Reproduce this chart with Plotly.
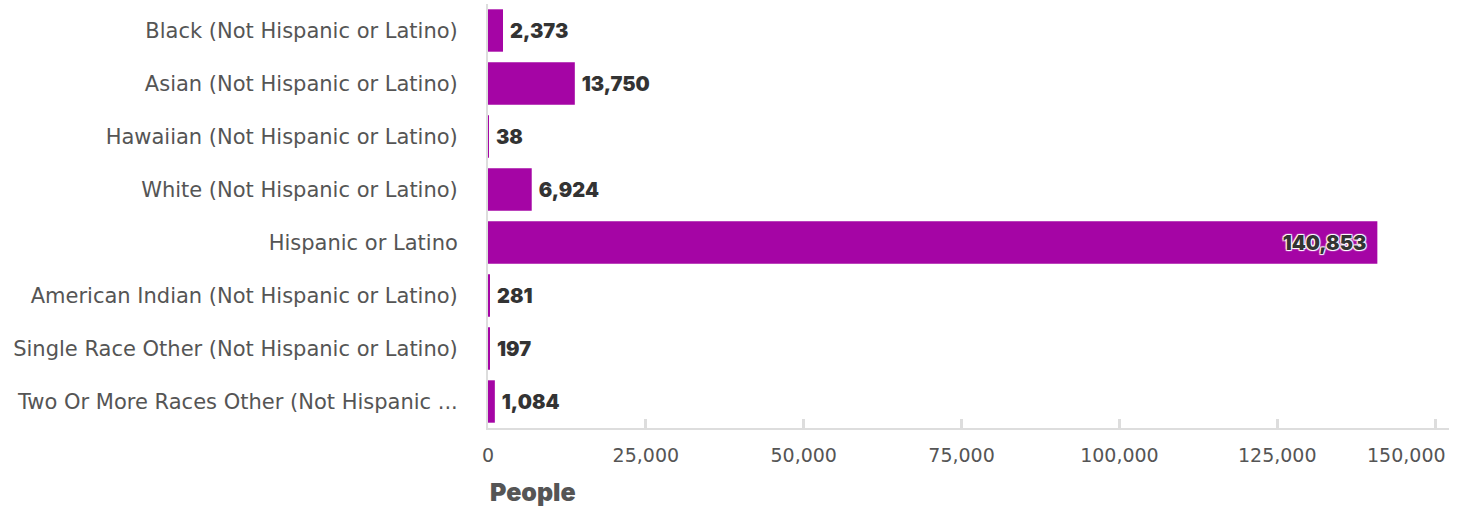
import plotly.graph_objects as go

categories = [
    "Black (Not Hispanic or Latino)",
    "Asian (Not Hispanic or Latino)",
    "Hawaiian (Not Hispanic or Latino)",
    "White (Not Hispanic or Latino)",
    "Hispanic or Latino",
    "American Indian (Not Hispanic or Latino)",
    "Single Race Other (Not Hispanic or Latino)",
    "Two Or More Races Other (Not Hispanic ...",
]
values = [2373, 13750, 38, 6924, 140853, 281, 197, 1084]
tick_values = [0, 25000, 50000, 75000, 100000, 125000, 150000]
tick_labels = ["0", "25,000", "50,000", "75,000", "100,000", "125,000", "150,000"]

vmax = max(values)
positions = ["inside" if v == vmax else "outside" for v in values]
texts = [(f"{v:,}\u00a0\u00a0" if v == vmax else f"\u00a0{v:,}") for v in values]

LABEL_FONT = "DejaVu Sans"
NUM_FONT = "Inter"

fig = go.Figure(go.Bar(
    x=values,
    y=categories,
    orientation="h",
    marker=dict(color="#a505a5", line=dict(width=0)),
    text=texts,
    textposition=positions,
    insidetextanchor="end",
    textfont=dict(family=NUM_FONT, size=20, color="#333333", weight=900,
                  shadow="1px 1px 1px #fff, -1px -1px 1px #fff, 1px -1px 1px #fff, -1px 1px 1px #fff"),
    cliponaxis=False,
    width=0.8,
    hoverinfo="skip",
))

# last tick label is drawn shifted left so it stays inside the figure, as in the reference
shown_ticktext = tick_labels[:-1] + [""]

fig.update_layout(
    width=1468,
    height=507,
    margin=dict(l=488, r=19, t=4, b=79),
    paper_bgcolor="white",
    plot_bgcolor="white",
    showlegend=False,
    bargap=0.2,
    xaxis=dict(
        range=[0, 152200],
        tickvals=tick_values,
        ticktext=shown_ticktext,
        showgrid=False,
        zeroline=False,
        showline=True,
        linecolor="#dddddd",
        linewidth=2,
        ticks="inside",
        ticklen=9,
        tickwidth=3,
        tickcolor="#dddddd",
        ticklabelstandoff=9,
        tickfont=dict(family=LABEL_FONT, size=19, color="#555555"),
    ),
    yaxis=dict(
        autorange="reversed",
        showgrid=False,
        zeroline=False,
        showline=True,
        linecolor="#dddddd",
        linewidth=2,
        ticks="",
        ticklabelstandoff=24,
        tickfont=dict(family=LABEL_FONT, size=21, color="#555555"),
    ),
    annotations=[
        dict(
            text="People",
            x=0, xref="paper", xanchor="left",
            y=-0.151, yref="paper", yanchor="middle",
            showarrow=False,
            font=dict(family=NUM_FONT, size=25, color="#555555", weight=900),
        ),
        dict(
            text=tick_labels[-1],
            x=tick_values[-1], xref="x", xanchor="right",
            y=0, yref="paper", yanchor="top",
            yshift=-14, xshift=13,
            showarrow=False,
            font=dict(family=LABEL_FONT, size=19, color="#555555"),
        ),
    ],
)

fig.write_html("out.html", config={"displayModeBar": False},
               post_script="document.body.style.margin='0px';")
